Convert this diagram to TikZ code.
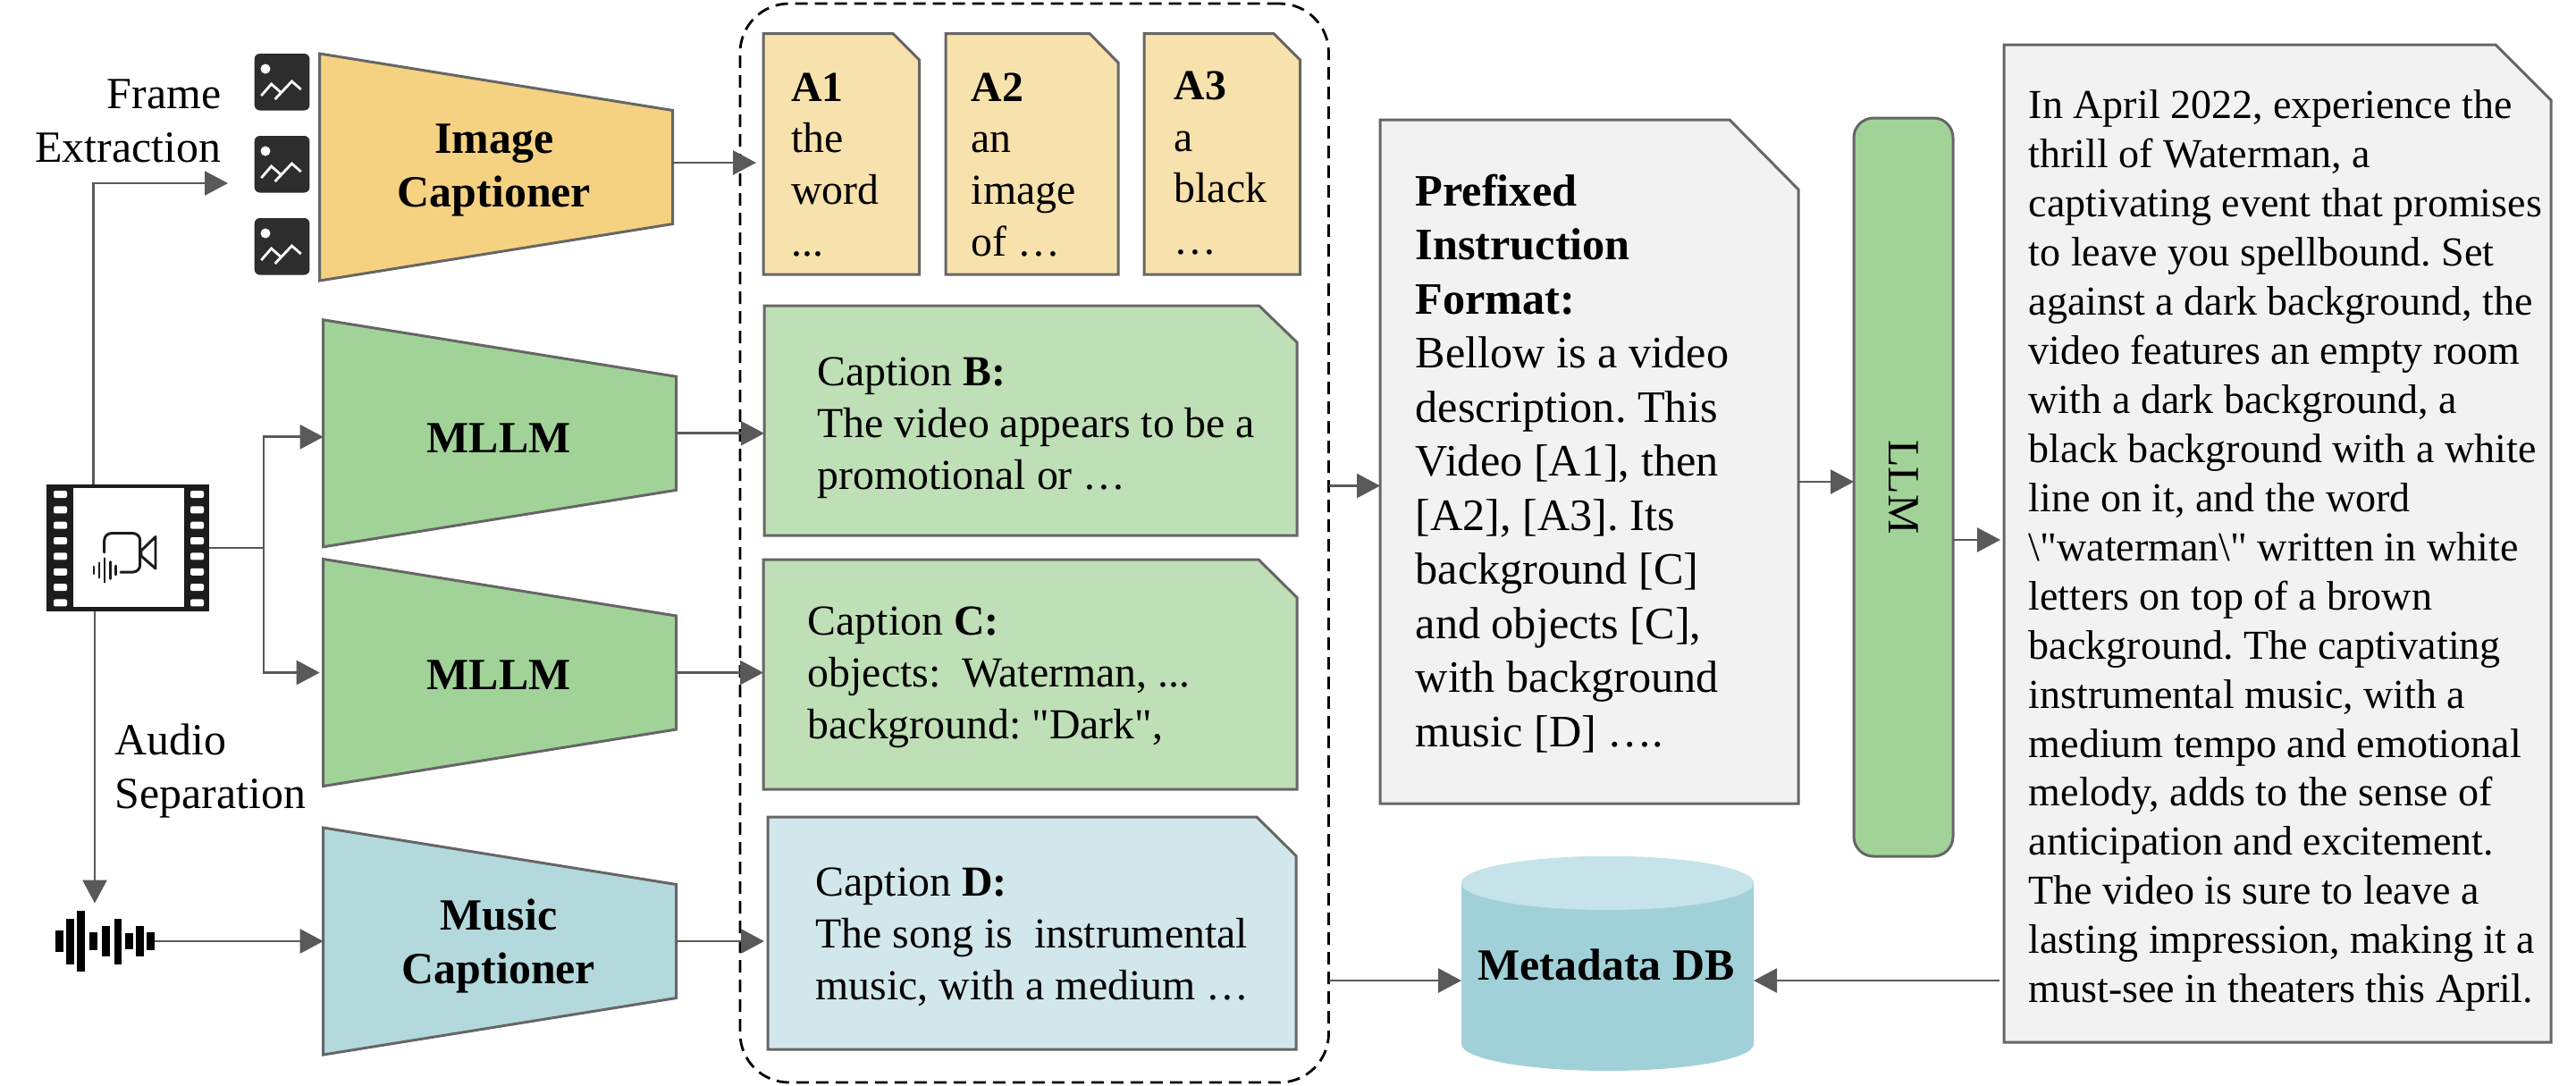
\documentclass[tikz,border=0pt]{standalone}
\usepackage{fontspec}
\usepackage{tikz}
\usepackage{xcolor}
\usetikzlibrary{arrows.meta,positioning,calc}
\setmainfont{Liberation Serif}
\newfontfamily\rawserif{Liberation Serif}
\frenchspacing
\definecolor{linegray}{RGB}{89,89,89}
\definecolor{bordergray}{RGB}{102,102,102}
\definecolor{icondark}{RGB}{45,45,45}
\definecolor{filmdark}{RGB}{28,28,28}
\definecolor{imagefill}{RGB}{245,210,129}
\definecolor{imagedoc}{RGB}{247,225,172}
\definecolor{mllmfill}{RGB}{161,211,152}
\definecolor{mllmdoc}{RGB}{191,223,182}
\definecolor{musicfill}{RGB}{179,217,220}
\definecolor{musicdoc}{RGB}{210,231,235}
\definecolor{greydoc}{RGB}{242,242,242}
\definecolor{dbbody}{RGB}{161,209,216}
\definecolor{dbtop}{RGB}{198,227,233}
\newcommand{\bodyfont}[2]{\fontsize{#1}{#2}\selectfont}
\newcommand{\straightq}{{\rawserif"}}
\tikzset{
    flow/.style={draw=linegray, line width=0.8pt, -{Triangle[length=2.6mm,width=2.7mm]}},
    funnel/.style={rectangle, minimum width=3.95cm, minimum height=2.54cm, inner sep=0pt, outer sep=0pt,
        append after command={\pgfextra{
            \draw[draw=bordergray, line width=0.85pt, fill=#1] (\tikzlastnode.north west)
                -- ($(\tikzlastnode.north east)+(0,0.635)$) -- ($(\tikzlastnode.south east)+(0,-0.635)$)
                -- (\tikzlastnode.south west) -- cycle;}}},
    snipbox/.style n args={5}{rectangle, minimum width=#1cm, minimum height=#2cm, anchor=north west,
        inner sep=0pt, outer sep=0pt,
        append after command={\pgfextra{
            \draw[draw=bordergray, line width=0.85pt, fill=#5] (\tikzlastnode.north west)
                -- ($(\tikzlastnode.north east)+(-#3,0)$) -- ($(\tikzlastnode.north east)+(0,#4)$)
                -- (\tikzlastnode.south east) -- (\tikzlastnode.south west) -- cycle;}}},
    drum/.style={rectangle, minimum width=3.27cm, minimum height=2.40cm, inner sep=0pt, outer sep=0pt,
        append after command={\pgfextra{
            \fill[dbbody] ($(\tikzlastnode.north west)+(0,0.3)$) -- ($(\tikzlastnode.south west)+(0,-0.3)$)
                arc[start angle=180, end angle=0, x radius=1.635, y radius=0.3]
                -- ($(\tikzlastnode.north east)+(0,0.3)$)
                arc[start angle=0, end angle=-180, x radius=1.635, y radius=0.3] -- cycle;
            \fill[dbtop] ($(\tikzlastnode.north)+(0,0.3)$) ellipse (1.635 and 0.3);}}},
    doctext/.style={anchor=base west, align=left, inner sep=0pt, font=\bodyfont{13.6}{16.4}},
    boldtext/.style={anchor=base, align=center, inner sep=0pt, font=\bodyfont{14.2}{17}\bfseries},
    steptext/.style={inner sep=0pt, font=\bodyfont{14.2}{17}}
}

\begin{document}
\begin{tikzpicture}[yscale=-1]
    \useasboundingbox (0,0) rectangle (28.82,12.14);

    % Dashed group of captions
    \node[rectangle, draw, line width=0.8pt, dash pattern=on 1.4mm off 0.8mm, rounded corners=0.55cm,
        minimum width=6.585cm, minimum height=12.07cm, inner sep=0pt, outer sep=0pt] (group) at (11.5725,6.075) {};

    % Video clip
    \node[rectangle, fill=filmdark, minimum width=1.82cm, minimum height=1.42cm, inner sep=0pt, outer sep=0pt] (film) at (1.43,6.13) {};
    \fill[white] (0.82,5.46) rectangle (2.06,6.79);
    \foreach \i in {0,...,7} {
        \fill[white, rounded corners=0.02cm] (0.60,{5.49+0.1735*\i}) rectangle (0.75,{5.57+0.1735*\i});
        \fill[white, rounded corners=0.02cm] (2.13,{5.49+0.1735*\i}) rectangle (2.28,{5.57+0.1735*\i});
    }
    \draw[filmdark, line width=0.85pt, line cap=round, rounded corners=0.08cm]
        (1.167,6.18) -- (1.167,5.966) -- (1.567,5.966) -- (1.567,6.40) -- (1.35,6.40);
    \draw[filmdark, line width=0.85pt, line join=round] (1.58,6.16) -- (1.74,6.005) -- (1.74,6.36) -- (1.58,6.22) -- cycle;
    \foreach \x/\h in {1.05/0.04,1.11/0.083,1.17/0.134,1.233/0.095,1.293/0.05} {
        \draw[filmdark, line width=0.75pt, line cap=round] (\x,{6.38-\h}) -- (\x,{6.38+\h});
    }

    % Extracted frames
    \foreach \y [count=\i] in {0.60,1.52,2.44} {
        \node[rectangle, fill=icondark, rounded corners=0.06cm, anchor=north west, minimum width=0.617cm,
            minimum height=0.635cm, inner sep=0pt, outer sep=0pt] (frame\i) at (2.847,\y) {};
        \fill[white] (2.97,{\y+0.17}) circle (0.055);
        \draw[white, line width=0.8pt] (2.923,{\y+0.47}) -- (3.036,{\y+0.34}) -- (3.138,{\y+0.43});
        \draw[white, line width=0.8pt] (3.076,{\y+0.51}) -- (3.265,{\y+0.31}) -- (3.367,{\y+0.40});
    }

    % Waveform
    \node[rectangle, minimum width=1.11cm, minimum height=0.69cm, inner sep=0pt, outer sep=0pt] (wave) at (1.175,10.53) {};
    \foreach \x/\h in {0.665/0.12,0.783/0.255,0.905/0.34,1.043/0.10,1.183/0.17,1.32/0.255,1.447/0.09,1.567/0.17,1.683/0.10} {
        \fill[black] ({\x-0.043},{10.53-\h}) rectangle ({\x+0.043},{10.53+\h});
    }

    % Captioners
    \node[funnel=imagefill] (imgcap) at (5.552,1.87) {};
    \node[funnel=mllmfill] (mllmA) at (5.592,4.848) {};
    \node[funnel=mllmfill] (mllmB) at (5.592,7.525) {};
    \node[funnel=musicfill] (music) at (5.592,10.53) {};
    \node[boldtext] (imgcaptext) at (5.53,2.31) {Image\\Captioner};
    \node[boldtext] (mllmAtext) at (5.58,5.06) {MLLM};
    \node[boldtext] (mllmBtext) at (5.58,7.71) {MLLM};
    \node[boldtext] (musictext) at (5.58,11.00) {Music\\Captioner};

    % Step labels
    \node[steptext, anchor=base east, align=right] (framestep) at (2.48,1.81) {Frame\\Extraction};
    \node[steptext, anchor=base west, align=left] (audiostep) at (1.28,9.04) {Audio\\Separation};

    % Frame captions
    \node[snipbox={1.745}{2.695}{0.295}{0.295}{imagedoc}] (A1) at (8.54,0.375) {};
    \node[snipbox={1.93}{2.695}{0.32}{0.325}{imagedoc}] (A2) at (10.58,0.375) {};
    \node[snipbox={1.745}{2.695}{0.295}{0.295}{imagedoc}] (A3) at (12.80,0.375) {};
    \node[doctext] (A1text) at (8.846,2.86) {\textbf{A1}\\the\\word\\...};
    \node[doctext] (A2text) at (10.86,2.86) {\textbf{A2}\\an\\image\\of …};
    \node[doctext] (A3text) at (13.13,2.846) {\textbf{A3}\\a\\black\\…};

    % Other captions
    \node[snipbox={5.96}{2.57}{0.424}{0.41}{mllmdoc}] (capB) at (8.55,3.42) {};
    \node[snipbox={5.97}{2.57}{0.43}{0.425}{mllmdoc}] (capC) at (8.54,6.26) {};
    \node[snipbox={5.91}{2.60}{0.44}{0.435}{musicdoc}] (capD) at (8.59,9.14) {};
    \node[doctext] (capBtext) at (9.137,5.47) {Caption \textbf{B:}\\The video appears to be a\\promotional or …};
    \node[doctext] (capCtext) at (9.03,8.26) {Caption \textbf{C:}\\objects:\ \ Waterman, ...\\background: \straightq Dark\straightq,};
    \node[doctext] (capDtext) at (9.12,11.18) {Caption \textbf{D:}\\The song is\ \ instrumental\\music, with a medium …};

    % Metadata store
    \node[drum] (db) at (17.985,10.78) {};
    \node[boldtext] (dbtext) at (17.97,10.96) {Metadata DB};

    % Prefixed format
    \node[snipbox={4.68}{7.65}{0.77}{0.78}{greydoc}] (format) at (15.44,1.34) {};
    \node[doctext, font=\bodyfont{14.3}{17.2}] (formattext) at (15.83,8.35) {\textbf{Prefixed}\\\textbf{Instruction}\\\textbf{Format:}\\Bellow is a video\\description. This\\Video [A1], then\\{[A2]}, [A3]. Its\\background [C]\\and objects [C],\\with background\\music [D] ….};

    % LLM
    \node[rectangle, rotate=-90, rounded corners=0.22cm, draw=bordergray, line width=0.85pt, fill=mllmfill,
        minimum width=8.26cm, minimum height=1.11cm, inner sep=0pt, outer sep=0pt, font=\bodyfont{14.2}{17}] (llm) at (21.295,5.45) {LLM};

    % Generated description
    \node[snipbox={6.12}{11.16}{0.62}{0.62}{greydoc}] (story) at (22.42,0.50) {};
    \node[doctext, font=\bodyfont{13.1}{15.63}] (storytext) at (22.69,11.217) {In April 2022, experience the\\thrill of Waterman, a\\captivating event that promises\\to leave you spellbound. Set\\against a dark background, the\\video features an empty room\\with a dark background, a\\black background with a white\\line on it, and the word\\\textbackslash\straightq waterman\textbackslash\straightq{} written in white\\letters on top of a brown\\background. The captivating\\instrumental music, with a\\medium tempo and emotional\\melody, adds to the sense of\\anticipation and excitement.\\The video is sure to leave a\\lasting impression, making it a\\must-see in theaters this April.};

    % Free ends of the connectors
    \coordinate (frametip) at (2.55,2.05);
    \coordinate (split) at (2.95,6.13);
    \coordinate (imgout) at ($(imgcap.east)+(0,-0.05)$);
    \coordinate (groupout) at ($(group.east)+(0,-0.64)$);
    \coordinate (groupdb) at ($(group.east)+(0,4.895)$);
    \coordinate (fmtout) at ($(format.east)+(0,0.225)$);
    \coordinate (llmout) at ($(llm.north)+(0,0.59)$);
    \coordinate (storydb) at ($(story.west)+(0,4.89)$);

    % Connectors
    \draw[flow] ($(film.north)+(-0.385,0)$) |- (frametip);
    \draw[flow] ($(film.south)+(-0.37,0)$) -- ($(wave.north)+(-0.115,-0.08)$);
    \draw[flow] (film.east) -- (split) |- ($(mllmA.west)+(0,0.04)$);
    \draw[flow, shorten >=0.04cm] (split) |- (mllmB.west);
    \draw[flow] (wave.east) -- (wave.east -| music.west);
    \draw[flow, shorten >=0.08cm] (imgout) -- (imgout -| A1.west);
    \draw[flow] (mllmA.east) -- (mllmA.east -| capB.west);
    \draw[flow] (mllmB.east) -- (mllmB.east -| capC.west);
    \draw[flow, shorten >=0.04cm] (music.east) -- (music.east -| capD.west);
    \draw[flow] (groupout) -- (groupout -| format.west);
    \draw[flow] (groupdb) -- (groupdb -| db.west);
    \draw[flow] (fmtout) -- (fmtout -| llm.south);
    \draw[flow, shorten >=0.04cm] (llmout) -- (llmout -| story.west);
    \draw[flow, shorten <=0.05cm] (storydb) -- (storydb -| db.east);

\end{tikzpicture}
\end{document}
